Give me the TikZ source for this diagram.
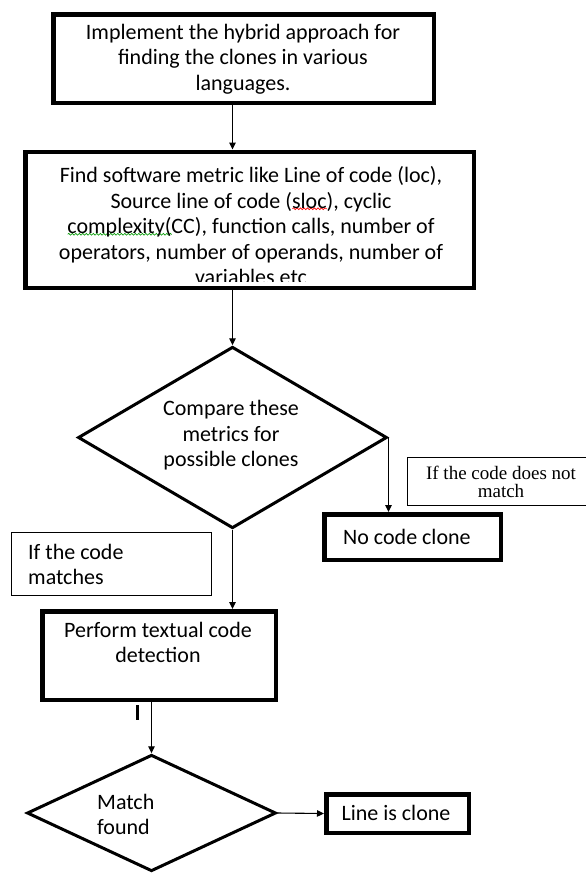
\documentclass[tikz,border=0pt]{standalone}
\usepackage{fontspec}
\setmainfont{Carlito}
\newfontfamily\serifnote{Liberation Serif}
\usetikzlibrary{shapes.geometric,arrows.meta,decorations.pathmorphing}
\newsavebox\wavebox
\newcommand\wavy[2]{\sbox\wavebox{#2}\rlap{\smash{\raisebox{-1.5pt}{\pgfinterruptpicture\tikz\draw[#1,line width=0.6pt,decorate,decoration={snake,amplitude=0.9pt,segment length=3.5pt}] (0pt,0pt) -- (\the\wd\wavebox,0pt);\endpgfinterruptpicture}}}\usebox\wavebox}
\begin{document}
\begin{tikzpicture}[x=1pt,y=-1pt,
  box/.style={draw, line width=4.5pt, rectangle, inner sep=0pt},
  thinbox/.style={draw, line width=0.9pt, rectangle, inner sep=0pt},
  dia/.style={draw, line width=3pt, diamond, inner sep=0pt},
  txt/.style={font=\fontsize{22}{25.5}\selectfont, inner sep=0pt, align=center},
  note/.style={font=\serifnote\fontsize{19}{18}\selectfont, inner sep=0pt, align=center},
  arr/.style={line width=1.1pt, -{Triangle[length=7pt,width=6.5pt]}}]
\useasboundingbox (0,0) rectangle (586,873);
\fill[white] (0,0) rectangle (586,873);

% boxes
\node[box, minimum width=380.5pt, minimum height=88.5pt] (b1) at (243.5,58.5) {};
\node[box, minimum width=448.5pt, minimum height=136pt] (b2) at (249.5,219.75) {};
\node[dia, minimum width=309pt, minimum height=181.5pt] (d1) at (232.5,437.5) {};
\node[box, minimum width=176.5pt, minimum height=45.5pt] (nc) at (412.5,537) {};
\node[thinbox, minimum width=185pt, minimum height=48pt] (n1) at (499.5,481.5) {};
\node[thinbox, minimum width=200pt, minimum height=63pt] (n2) at (111.5,564) {};
\node[box, minimum width=233.5pt, minimum height=88.5pt] (b3) at (159,655.5) {};
\node[dia, minimum width=249pt, minimum height=116.5pt] (d2) at (151.5,813) {};
\node[box, minimum width=142.5pt, minimum height=38.5pt] (lc) at (397.5,813.5) {};

% texts
\node[txt] (t1) at (243,59) {Implement the hybrid approach for\\finding the clones in various\\languages.};
\begin{scope}
\clip (24,152) rectangle (476,281);
\node[txt] (t2) at (251,226) {Find software metric like Line of code (loc),\\Source line of code (\wavy{red}{sloc}), cyclic\\\wavy{green!60!black}{complexity(}CC), function calls, number of\\operators, number of operands, number of\\variables etc};
\end{scope}
\node[txt] (t3) at (231,435.5) {Compare these\\metrics for\\possible clones};
\node[txt, anchor=west] (t4) at (343,537) {No code clone};
\node[note] (t5) at (501,482) {If the code does not\\match};
\node[txt, anchor=west, align=left] (t6) at (28,564.5) {If the code\\matches};
\node[txt] (t7) at (158,642.5) {Perform textual code\\detection};
\node[txt, anchor=west, align=left] (t8) at (97,814.5) {Match\\found};
\node[txt] (t9) at (396,813) {Line is clone};

% connectors
\draw[arr] (d1.north |- b1.south) -- (d1.north |- b2.north);
\draw[arr] (d1.north |- b2.south) -- (d1.north);
\draw[arr] (d1.east) -- (d1.east |- nc.north);
\draw[arr] (d1.south) -- (d1.south |- b3.north);
\draw[arr] (d2.north |- b3.south) -- (d2.north);
\draw[arr] (d2.east) -- (lc.west);

% stray cursor mark under the textual detection box
\draw[line width=3pt] (137,705) -- (137,720);
\end{tikzpicture}
\end{document}
